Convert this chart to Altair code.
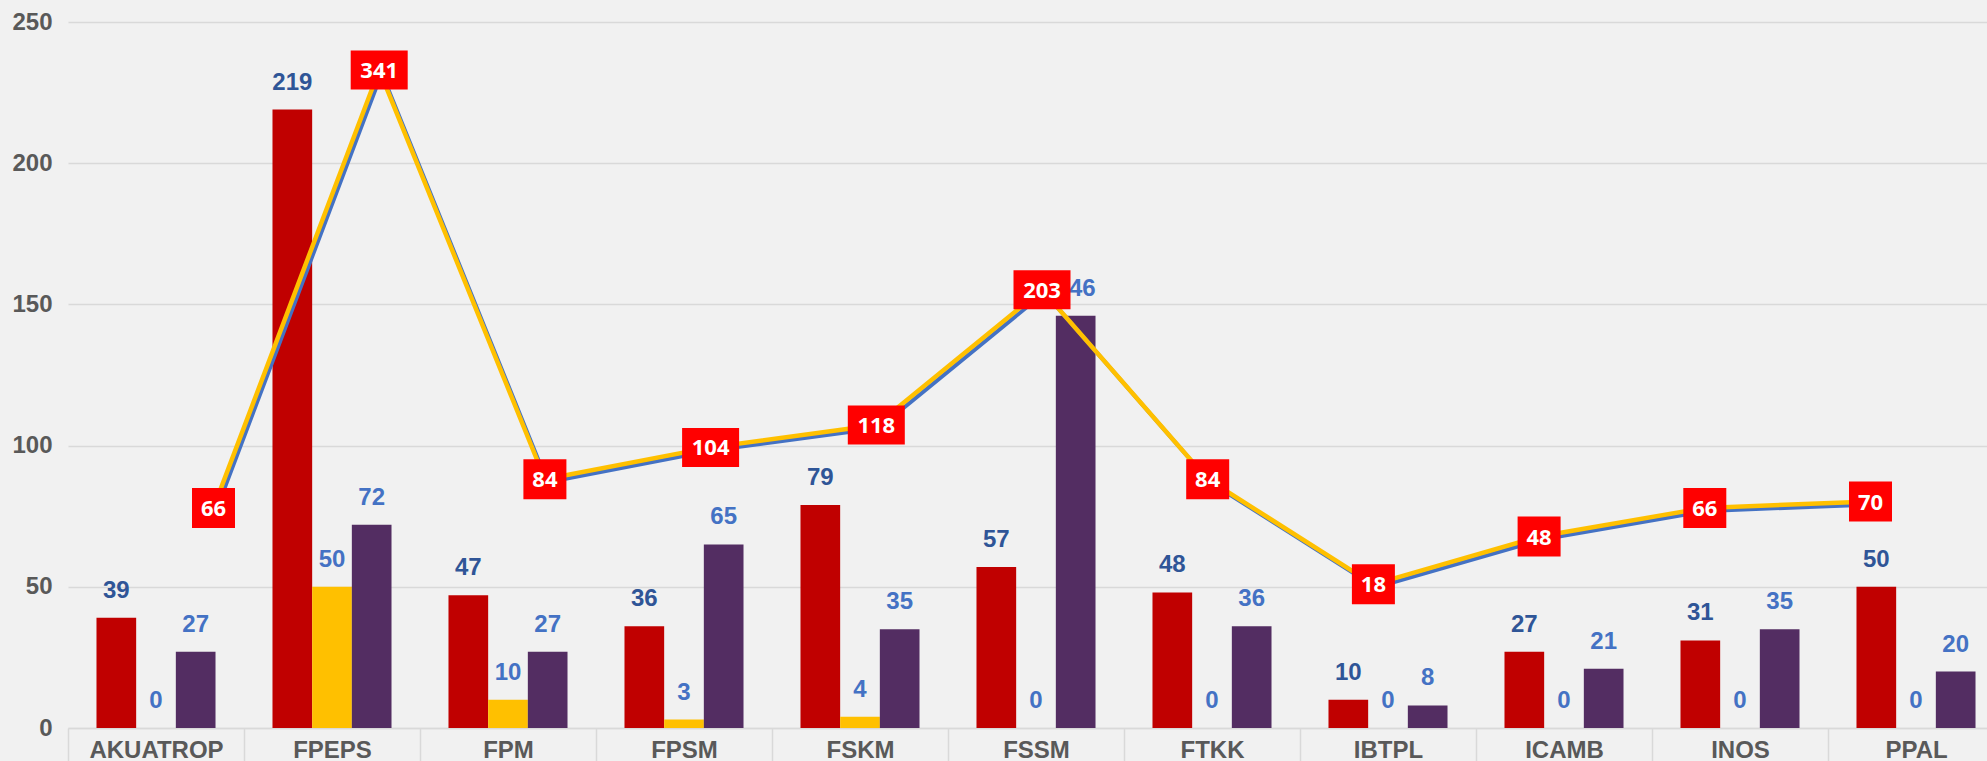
import altair as alt
import pandas as pd

# ---- data ----
cats = ["AKUATROP", "FPEPS", "FPM", "FPSM", "FSKM", "FSSM", "FTKK", "IBTPL", "ICAMB", "INOS", "PPAL"]
series = ["Seri 1", "Seri 2", "Seri 3"]
red_vals = [39, 219, 47, 36, 79, 57, 48, 10, 27, 31, 50]
yellow_vals = [0, 50, 10, 3, 4, 0, 0, 0, 0, 0, 0]
purple_vals = [27, 72, 27, 65, 35, 146, 36, 8, 21, 35, 20]
line_vals = [66, 341, 84, 104, 118, 203, 84, 18, 48, 66, 70]
y_ticks = [0, 50, 100, 150, 200, 250]

bar_colors = ["#C00000", "#FFC000", "#532D62"]

rows = []
for i, c in enumerate(cats):
    for s, vals in zip(series, [red_vals, yellow_vals, purple_vals]):
        rows.append({"cat": c, "series": s, "value": vals[i]})
bars_df = pd.DataFrame(rows)
line_df = pd.DataFrame({
    "cat": cats,
    "total": line_vals,
    "ndig": [str(len(str(v))) for v in line_vals],
})

FONT = "Liberation Sans"
GRID = "#d9d9d9"

x_bar = alt.X(
    "cat:N", sort=cats,
    scale=alt.Scale(domain=cats, range=[0, 1936], paddingInner=0, paddingOuter=0),
    axis=alt.Axis(
        title=None, labelAngle=0, labelFont=FONT, labelFontSize=24, labelFontWeight="bold",
        labelColor="#595959", tickBand="extent", ticks=True, tickSize=33, tickColor=GRID,
        tickWidth=1.5, labelPadding=-23, domainColor=GRID, domainWidth=1.5, grid=False,
    ),
)
y_bar = alt.Y(
    "value:Q",
    scale=alt.Scale(domain=[0, 250], nice=False, zero=True),
    axis=alt.Axis(
        title=None, values=y_ticks, labelFont=FONT, labelFontSize=24, labelFontWeight="bold",
        labelColor="#595959", labelPadding=16, ticks=False, domain=False,
        gridColor=GRID, gridWidth=1.5,
    ),
)
x_off = alt.XOffset(
    "series:N", sort=series,
    scale=alt.Scale(domain=series, paddingInner=0, paddingOuter=0.718),
)

bars = alt.Chart(bars_df).mark_bar().encode(
    x=x_bar, y=y_bar, xOffset=x_off,
    color=alt.Color("series:N", scale=alt.Scale(domain=series, range=bar_colors), legend=None),
)
bar_text = alt.Chart(bars_df).mark_text(
    font=FONT, fontSize=24, fontWeight="bold", baseline="alphabetic", align="center", dy=-20,
).encode(
    x=x_bar, y=y_bar, xOffset=x_off, text="value:Q",
    color=alt.condition(alt.datum.series == series[0], alt.value("#2F5597"), alt.value("#4472C4")),
)

x_line = alt.X(
    "cat:N", sort=cats,
    scale=alt.Scale(type="point", domain=cats, range=[145.5, 1802.5], padding=0),
    axis=None,
)
y_line = alt.Y(
    "total:Q",
    scale=alt.Scale(domain=[-72.2, 371.1], nice=False, zero=False),
    axis=None,
)

blue = alt.Chart(line_df).mark_line(
    color="#4472C4", strokeWidth=4, interpolate="linear", xOffset=2.5, yOffset=3,
    strokeCap="round", strokeJoin="round",
).encode(x=x_line, y=y_line)
yellow = alt.Chart(line_df).mark_line(
    color="#FFC000", strokeWidth=4.5, interpolate="linear",
    strokeCap="round", strokeJoin="round",
).encode(x=x_line, y=y_line)

p2 = "M-1.075,-1L1.075,-1L1.075,1L-1.075,1Z"
p3 = "M-1.425,-0.975L1.425,-0.975L1.425,0.975L-1.425,0.975Z"
boxes = alt.Chart(line_df).mark_point(
    filled=True, fill="#FF0000", opacity=1, size=1600, strokeWidth=0,
).encode(
    x=x_line, y=y_line,
    shape=alt.Shape("ndig:N", scale=alt.Scale(domain=["2", "3"], range=[p2, p3]), legend=None),
)
box_text = alt.Chart(line_df).mark_text(
    font="Open Sans", fontSize=22, fontWeight="bold", color="white",
    baseline="middle", align="center", dy=1,
).encode(x=x_line, y=y_line, text="total:Q")

chart = alt.layer(
    alt.layer(bars, bar_text),
    alt.layer(blue, yellow, boxes, box_text),
).resolve_scale(x="independent", y="independent").properties(
    width=1919, height=706,
    background="#f1f1f1",
    padding={"left": 68, "top": 22, "right": 0, "bottom": 33},
    autosize=alt.AutoSizeParams(type="none"),
).configure_view(stroke=None)

chart.save("out.html", embed_options={"renderer": "svg", "actions": False})
